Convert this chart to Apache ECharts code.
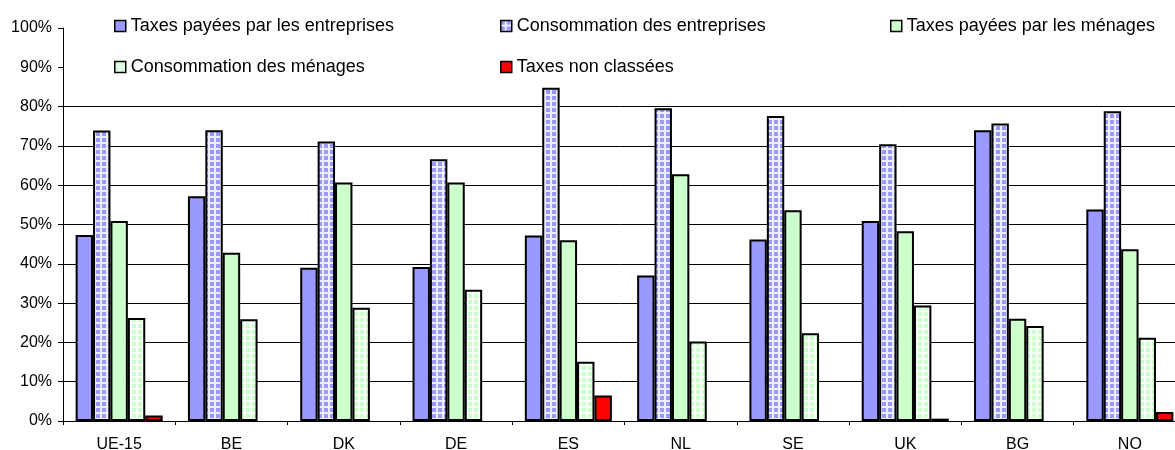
<!DOCTYPE html>
<html>
<head>
<meta charset="utf-8">
<script src="https://cdn.jsdelivr.net/npm/echarts@6/dist/echarts.min.js"></script>
<style>
  html, body { margin: 0; padding: 0; background: #fff; }
  #chart { width: 1175px; height: 450px; }
</style>
</head>
<body>
<div id="chart"></div>
<script>
// ---- Data (percent) ----
const categories = ['UE-15', 'BE', 'DK', 'DE', 'ES', 'NL', 'SE', 'UK', 'BG', 'NO'];
const taxesEntreprises = [47.3, 57.2, 39.0, 39.2, 47.2, 37.0, 46.2, 50.9, 74.0, 53.8];
const consoEntreprises = [73.9, 74.0, 71.1, 66.6, 84.8, 79.6, 77.6, 70.4, 75.7, 78.8];
const taxesMenages = [50.9, 42.8, 60.7, 60.7, 46.0, 62.8, 53.6, 48.3, 26.0, 43.7];
const consoMenages = [26.2, 25.9, 28.8, 33.4, 15.1, 20.2, 22.3, 29.4, 24.2, 21.2];
const taxesNonClassees = [1.4, null, null, null, 6.5, null, null, 0.6, null, 2.3];
const seriesNames = [
  'Taxes payées par les entreprises',
  'Consommation des entreprises',
  'Taxes payées par les ménages',
  'Consommation des ménages',
  'Taxes non classées'
];
const yTicks = [0, 10, 20, 30, 40, 50, 60, 70, 80, 90, 100];

// ---- Patterns ----
function gridPattern(bg, line) {
  const c = document.createElement('canvas');
  c.width = 6; c.height = 6;
  const ctx = c.getContext('2d');
  ctx.fillStyle = bg;
  ctx.fillRect(0, 0, 6, 6);
  ctx.fillStyle = line;
  ctx.fillRect(4, 0, 2, 6);
  ctx.fillRect(0, 4, 6, 2);
  return { image: c, repeat: 'repeat' };
}
const blue = '#9999FF';
const green = '#CCFFCC';
const red = '#FF0000';
const bluePat = gridPattern(blue, '#EEEEFF');
const greenPat = gridPattern(green, '#F8FFF8');
const colors = [blue, bluePat, green, greenPat, red];
const dataSets = [taxesEntreprises, consoEntreprises, taxesMenages, consoMenages, taxesNonClassees];

const chart = echarts.init(document.getElementById('chart'), null, { renderer: 'canvas' });

const legendPos = [
  { left: 114, top: 16 },
  { left: 500, top: 16 },
  { left: 890, top: 16 },
  { left: 114, top: 57 },
  { left: 500, top: 57 }
];

const font = 'Liberation Sans, Arial, sans-serif';

const splitColors = yTicks.map(v => (v <= 80 ? '#000' : 'rgba(0,0,0,0)'));

const option = {
  animation: false,
  backgroundColor: '#fff',
  textStyle: { fontFamily: font, color: '#000' },
  legend: seriesNames.map((n, i) => ({
    data: [n],
    left: legendPos[i].left,
    top: legendPos[i].top,
    padding: 0,
    icon: 'rect',
    itemWidth: 11,
    itemHeight: 11,
    itemStyle: { borderColor: '#000', borderWidth: 1.5 },
    textStyle: { fontFamily: font, fontSize: 18, color: '#000', lineHeight: 20 },
    selectedMode: false
  })),
  grid: { left: 63, top: 28, width: 1123, bottom: 29, containLabel: false, outerBoundsMode: 'none' },
  xAxis: {
    type: 'category',
    data: categories,
    boundaryGap: true,
    axisLine: { show: true, lineStyle: { color: '#000', width: 1 } },
    axisTick: { show: true, length: 4, inside: false, lineStyle: { color: '#000' } },
    axisLabel: { fontFamily: font, fontSize: 16, color: '#000', margin: 16 },
    splitLine: { show: false }
  },
  yAxis: {
    type: 'value',
    min: 0,
    max: 100,
    interval: 10,
    axisLine: { show: true, lineStyle: { color: '#000', width: 1 } },
    axisTick: { show: true, length: 5, lineStyle: { color: '#000' } },
    axisLabel: { fontFamily: font, fontSize: 16, color: '#000', margin: 11, formatter: '{value}%' },
    splitLine: { show: true, lineStyle: { color: splitColors, width: 1 } }
  },
  series: seriesNames.map((n, i) => ({
    name: n,
    type: 'bar',
    data: dataSets[i].map(v => (v === null ? '-' : v)),
    barGap: '0%',
    barCategoryGap: '22.5%',
    itemStyle: { color: colors[i], borderColor: '#000', borderWidth: 2 },
    emphasis: { disabled: true }
  }))
};

chart.setOption(option);
</script>
</body>
</html>
